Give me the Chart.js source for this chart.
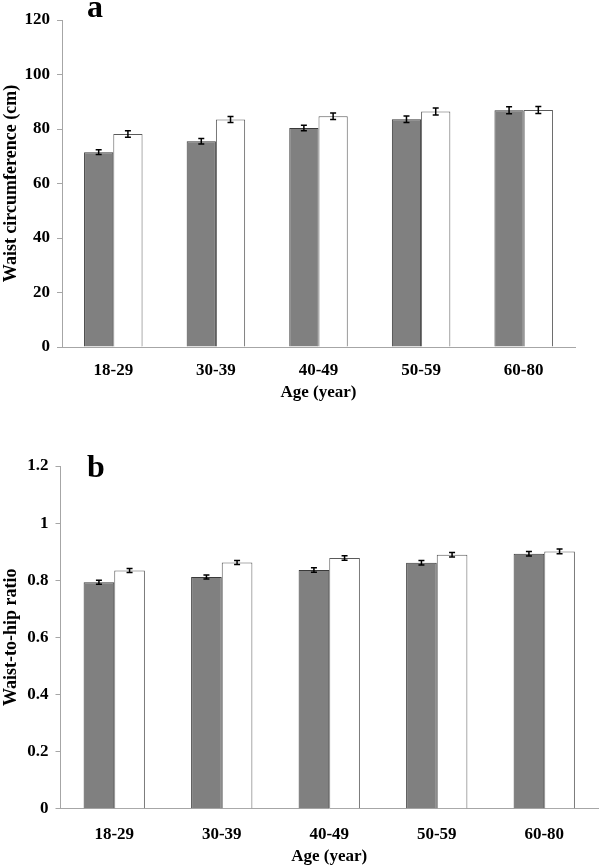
<!DOCTYPE html>
<html lang="en">
<head>
<meta charset="UTF-8">
<title>Waist circumference and waist-to-hip ratio by age</title>
<script src="https://cdn.jsdelivr.net/npm/chart.js@4.4.0/dist/chart.umd.min.js"></script>
<style>
    html, body { margin: 0; padding: 0; background: #fff; }
    .panel { position: absolute; left: 0; width: 600px; }
    #panelA { top: 0; height: 403px; }
    #panelB { top: 440px; height: 427px; }
</style>
</head>
<body>
<div class="panel" id="panelA"><canvas id="chartA"></canvas></div>
<div class="panel" id="panelB"><canvas id="chartB"></canvas></div>

<script>
// age groups
const ageGroups = ["18-29", "30-39", "40-49", "50-59", "60-80"];

// panel a: waist circumference (cm)
const waistDark = [71.5, 75.5, 80.4, 83.6, 86.9];
const waistDarkErr = [0.9, 1.0, 1.0, 1.2, 1.3];
const waistWhite = [78.2, 83.5, 84.7, 86.4, 87.0];
const waistWhiteErr = [1.2, 1.1, 1.2, 1.3, 1.3];

// panel b: waist-to-hip ratio
const whrDark = [0.793, 0.811, 0.836, 0.861, 0.893];
const whrDarkErr = [0.007, 0.007, 0.008, 0.008, 0.008];
const whrWhite = [0.834, 0.862, 0.878, 0.889, 0.901];
const whrWhiteErr = [0.007, 0.007, 0.008, 0.008, 0.008];

const serif = "'Liberation Serif', 'Times New Roman', serif";
const axisGrey = "#a6a6a6";

// draws the +/- error whiskers on each bar
const errorBars = {
    id: "errorBars",
    afterDatasetsDraw(chart) {
        const ctx = chart.ctx;
        const y = chart.scales.y;
        ctx.save();
        ctx.strokeStyle = "#000";
        ctx.lineWidth = 1.5;
        chart.data.datasets.forEach((ds, di) => {
            const meta = chart.getDatasetMeta(di);
            meta.data.forEach((bar, i) => {
                const v = ds.data[i], e = ds.errors[i];
                const top = y.getPixelForValue(v + e);
                const bot = y.getPixelForValue(v - e);
                ctx.beginPath();
                ctx.moveTo(bar.x, top); ctx.lineTo(bar.x, bot);
                ctx.moveTo(bar.x - 3, top); ctx.lineTo(bar.x + 3, top);
                ctx.moveTo(bar.x - 3, bot); ctx.lineTo(bar.x + 3, bot);
                ctx.stroke();
            });
        });
        ctx.restore();
    }
};

// panel letter (a / b)
const panelLetter = {
    id: "panelLetter",
    afterDraw(chart, args, opts) {
        const ctx = chart.ctx;
        ctx.save();
        ctx.font = "bold 32px " + serif;
        ctx.fillStyle = "#000";
        ctx.textBaseline = "alphabetic";
        ctx.fillText(opts.text, opts.x, opts.y);
        ctx.restore();
    }
};

function makeChart(id, cfg) {
    return new Chart(document.getElementById(id), {
        type: "bar",
        data: {
            labels: ageGroups,
            datasets: [
                {
                    data: cfg.dark, errors: cfg.darkErr,
                    backgroundColor: "#808080", borderColor: "#3a3a3a", borderWidth: 1,
                    categoryPercentage: 0.57, barPercentage: 1
                },
                {
                    data: cfg.white, errors: cfg.whiteErr,
                    backgroundColor: "#ffffff", borderColor: "#5a5a5a", borderWidth: 1,
                    categoryPercentage: 0.57, barPercentage: 1
                }
            ]
        },
        plugins: [errorBars, panelLetter],
        options: {
            responsive: true,
            maintainAspectRatio: false,
            animation: false,
            layout: { padding: { top: cfg.padTop, right: cfg.padRight, left: 0, bottom: 0 } },
            plugins: {
                legend: { display: false },
                tooltip: { enabled: false },
                panelLetter: { text: cfg.letter, x: 87, y: cfg.letterY }
            },
            scales: {
                x: {
                    grid: { display: false },
                    border: { display: true, color: axisGrey, width: 1 },
                    ticks: { color: "#000", padding: cfg.xTickPad, font: { family: serif, size: 17, weight: "bold" } },
                    title: {
                        display: true, text: "Age (year)", color: "#000",
                        padding: { top: 0, bottom: cfg.xTitlePad },
                        font: { family: serif, size: 17, weight: "bold" }
                    },
                    afterFit(scale) { scale.height = cfg.xHeight; }
                },
                y: {
                    min: 0, max: cfg.max,
                    grid: { display: true, drawOnChartArea: false, drawTicks: true, tickLength: 5, color: axisGrey },
                    border: { display: true, color: axisGrey, width: 1 },
                    ticks: {
                        stepSize: cfg.step, color: "#000", padding: 7,
                        font: { family: serif, size: 17, weight: "bold" },
                        callback: v => cfg.fmt(v)
                    },
                    title: {
                        display: true, text: cfg.yTitle, color: "#000",
                        padding: { top: 1, bottom: 0 },
                        font: { family: serif, size: 18, weight: "bold" }
                    },
                    afterFit(scale) { scale.width = cfg.yWidth; }
                }
            }
        }
    });
}

makeChart("chartA", {
    dark: waistDark, darkErr: waistDarkErr, white: waistWhite, whiteErr: waistWhiteErr,
    max: 120, step: 20, fmt: v => String(Math.round(v)),
    yTitle: "Waist circumference (cm)", letter: "a", letterY: 17,
    padTop: 20, padRight: 25, yWidth: 62, xHeight: 56, xTickPad: 5, xTitlePad: 0
});

makeChart("chartB", {
    dark: whrDark, darkErr: whrDarkErr, white: whrWhite, whiteErr: whrWhiteErr,
    max: 1.2, step: 0.2, fmt: v => String(Math.round(v * 10) / 10),
    yTitle: "Waist-to-hip ratio", letter: "b", letterY: 37,
    padTop: 26, padRight: 2, yWidth: 60.5, xHeight: 58.3, xTickPad: 8, xTitlePad: 0
});
</script>
</body>
</html>
